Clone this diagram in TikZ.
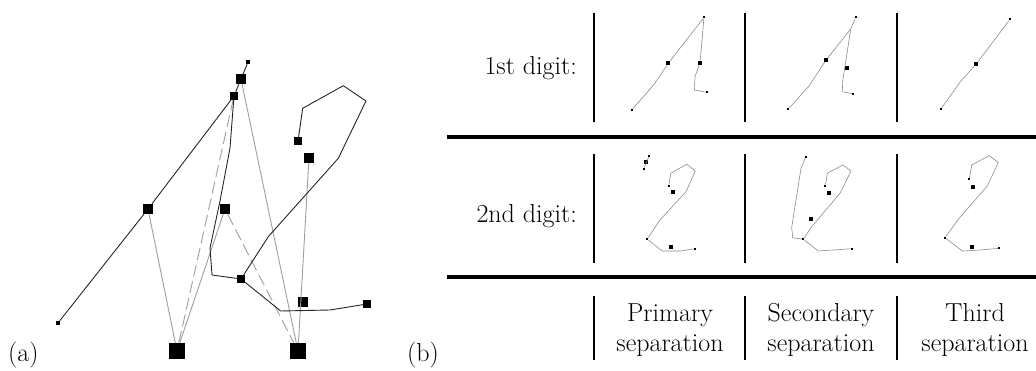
\documentclass[tikz,border=0pt]{standalone}
\begin{document}
\begin{tikzpicture}[x=1pt,y=-1pt,
  bsq/.style={rectangle,fill=black,draw=none,inner sep=0pt,minimum size=#1},
  conn/.style={draw=black!38,line width=0.9pt},
  connd/.style={conn,dash pattern=on 12pt off 5pt},
  pen/.style={draw=black!85,line width=0.9pt,line join=round},
  ink/.style={draw=black!45,line width=0.6pt,line join=round},
  dotA/.style={rectangle,fill=black,draw=none,inner sep=0pt,minimum size=2.2pt},
  dotB/.style={rectangle,fill=black,draw=none,inner sep=0pt,minimum size=3.8pt},
  rulev/.style={line width=2.6pt},
  ruleh/.style={line width=3.4pt},
  lbl/.style={inner sep=0pt,font=\fontsize{26}{30}\selectfont}]
\useasboundingbox (0,0) rectangle (1036,371);
% ---------------- panel (a) ----------------
\node[bsq=4pt]  (tdot) at (248,62) {};
\node[bsq=10pt] (A1) at (241,79) {};
\node[bsq=8pt]  (A2) at (234,96) {};
\node[bsq=10pt] (B) at (148,209) {};
\node[bsq=10pt] (C) at (225,209) {};
\node[bsq=8pt]  (D) at (298,141) {};
\node[bsq=10pt] (E) at (309,158) {};
\node[bsq=8pt]  (F) at (241,279) {};
\node[bsq=10pt] (G) at (303,302) {};
\node[bsq=8pt]  (H) at (367,304) {};
\node[bsq=16pt] (L) at (177,351) {};
\node[bsq=16pt] (R) at (298,351) {};
\node[bsq=4pt]  (bdot) at (58,323) {};
% gray connections
\draw[conn] (L) -- (B);
\draw[conn] (L) -- (C);
\draw[connd] (L) -- (A2);
\draw[connd] (C) -- (R);
\draw[conn] (R) -- (A1);
\draw[conn] (R) -- (E);
% pen strokes
\draw[pen] (bdot) -- (B) -- (A2) -- (A1) -- (tdot);
\draw[pen] (A2) -- (230,148) -- (220,201) -- (210,248) -- (212,275) -- (F);
\draw[pen] (D) -- (302.7,108.3) -- (343.3,85.7) -- (366,101) -- (338.3,158.3) -- (268.3,236.7) -- (F)
  -- (280.7,311) -- (330,310) -- (H);
\node[lbl,anchor=base west] (la) at (8,361) {(a)};
% ---------------- panel (b) ----------------
\node[lbl,anchor=base west] (lb) at (407,361) {(b)};
\node[lbl,anchor=base east] (r1) at (577,75) {1st digit:};
\node[lbl,anchor=base east] (r2) at (577,223) {2nd digit:};
\node[lbl,anchor=base] (c1a) at (670,321) {Primary};
\node[lbl,anchor=base] (c1b) at (670,351) {separation};
\node[lbl,anchor=base] (c2a) at (821,321) {Secondary};
\node[lbl,anchor=base] (c2b) at (821,351) {separation};
\node[lbl,anchor=base] (c3a) at (975,321) {Third};
\node[lbl,anchor=base] (c3b) at (975,351) {separation};
% rules
\coordinate (h1l) at (447,137); \coordinate (h1r) at (1036,137);
\coordinate (h2l) at (447,277); \coordinate (h2r) at (1036,277);
\draw[ruleh] (h1l) -- (h1r);
\draw[ruleh] (h2l) -- (h2r);
\foreach \x [count=\i] in {594,745,897}{
  \coordinate (v1t\i) at (\x,13);  \coordinate (v1b\i) at (\x,122);
  \coordinate (v2t\i) at (\x,154); \coordinate (v2b\i) at (\x,263);
  \coordinate (v3t\i) at (\x,296); \coordinate (v3b\i) at (\x,360);
  \draw[rulev] (v1t\i) -- (v1b\i);
  \draw[rulev] (v2t\i) -- (v2b\i);
  \draw[rulev] (v3t\i) -- (v3b\i);
}
% row 1, primary
\node[dotA] (p1s) at (631.7,110) {};
\node[dotB] (p1m) at (668.3,63.3) {};
\node[dotA] (p1t) at (704,17.3) {};
\node[dotB] (p1q) at (700,62.7) {};
\node[dotA] (p1e) at (706.7,92.3) {};
\draw[ink] (p1s) -- (654,84.5) -- (p1m) -- (p1t) -- (p1q) -- (695,76.7) -- (694.5,90) -- (p1e);
% row 1, secondary
\node[dotA] (s1s) at (788.3,109) {};
\node[dotB] (s1m) at (826,60) {};
\node[dotA] (s1t) at (855.7,17.3) {};
\node[dotB] (s1q) at (847.3,68.3) {};
\node[dotA] (s1e) at (853.3,94) {};
\coordinate (s1j) at (850.7,29);
\draw[ink] (s1s) -- (809,86) -- (s1m) -- (s1j) -- (s1t);
\draw[ink] (s1j) -- (846,60) -- (842.3,83.3) -- (842.7,91.7) -- (s1e);
% row 1, third
\node[dotA] (t1s) at (940.7,109.3) {};
\node[dotB] (t1m) at (976,64.3) {};
\node[dotA] (t1t) at (1010,19.3) {};
\draw[ink] (t1s) -- (960.5,81.5) -- (t1m) -- (t1t);
% row 2, primary
\node[dotA] (p2a) at (649.3,155.7) {};
\node[dotB] (p2b) at (646.3,161.7) {};
\node[dotA] (p2c) at (643.7,168.7) {};
\draw[ink] (p2a) -- (p2c);
\node[dotA] (p2s) at (668.7,186) {};
\node[dotA] (p2k) at (647.3,239) {};
\node[dotA] (p2e) at (695.3,248.7) {};
\node[dotB] (p2q) at (672.7,192.3) {};
\node[dotB] (p2r) at (671,247) {};
\draw[ink] (p2s) -- (670.7,173.3) -- (686.7,164.3) -- (695.3,171) -- (686,191.7) -- (660,220) -- (p2k)
  -- (662,251) -- (680,251) -- (p2e);
% row 2, secondary
\node[dotA] (s2a) at (806,156.7) {};
\node[dotA] (s2k) at (803.3,239.3) {};
\node[dotA] (s2s) at (825.3,186) {};
\node[dotA] (s2e) at (851.7,248.7) {};
\node[dotB] (s2q) at (829,192.7) {};
\node[dotB] (s2r) at (811,218.7) {};
\draw[ink] (s2a) -- (801,168.3) -- (791.7,227.3) -- (792.7,237.7) -- (s2k);
\draw[ink] (s2s) -- (827.3,173.3) -- (842.7,165) -- (851,171) -- (840,193.3) -- (811.7,226.7) -- (s2k);
\draw[ink] (s2k) -- (818.3,251) -- (s2e);
% row 2, third
\node[dotA] (t2s) at (969.3,179.3) {};
\node[dotA] (t2k) at (945,237.7) {};
\node[dotA] (t2e) at (999,248.3) {};
\node[dotB] (t2q) at (973.3,186.7) {};
\node[dotB] (t2r) at (971.7,246.7) {};
\draw[ink] (t2s) -- (971.7,165) -- (989,155.7) -- (998.3,162.3) -- (987.3,186) -- (958.3,219.3) -- (t2k)
  -- (962.3,251) -- (980,250) -- (t2e);
\end{tikzpicture}
\end{document}
